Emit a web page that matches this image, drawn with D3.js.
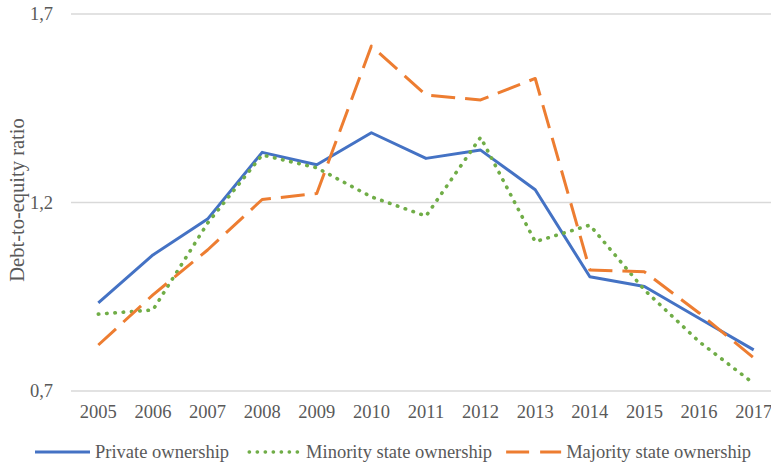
<!DOCTYPE html>
<html>
<head>
<meta charset="utf-8">
<script src="https://cdn.jsdelivr.net/npm/d3@7"></script>
<style>
  body { margin: 0; background: #fff; }
  svg { display: block; font-family: "Liberation Serif", "Times New Roman", serif; }
  .grid line { stroke: #d9d9d9; stroke-width: 1.5; }
  .tick-label { fill: #595959; font-size: 18.5px; }
</style>
</head>
<body>
<div class="graph"></div>
<script>
// values
var years = ["2005", "2006", "2007", "2008", "2009", "2010", "2011", "2012", "2013", "2014", "2015", "2016", "2017"];
var privateOwnership  = [0.934, 1.061, 1.156, 1.333, 1.300, 1.385, 1.317, 1.339, 1.234, 1.003, 0.977, 0.893, 0.809];
var minorityOwnership = [0.904, 0.915, 1.145, 1.326, 1.292, 1.215, 1.164, 1.373, 1.096, 1.140, 0.968, 0.831, 0.720];
var majorityOwnership = [0.822, 0.955, 1.074, 1.208, 1.224, 1.615, 1.485, 1.472, 1.529, 1.021, 1.016, 0.907, 0.788];
var yTicks = [0.7, 1.2, 1.7];
var seriesNames = ["Private ownership", "Minority state ownership", "Majority state ownership"];

var width = 771, height = 466;

// plot area (right side runs a bit past the picture, as in the original)
var plot = {left: 71, right: 781, top: 14, bottom: 391};

var x = d3.scaleBand()
    .domain(years)
    .range([plot.left, plot.right]);

var y = d3.scaleLinear()
    .domain([0.7, 1.7])
    .range([plot.bottom, plot.top]);

var commaFormat = d3.formatLocale({decimal: ",", thousands: ".", grouping: [3], currency: ["", ""]}).format(".1f");

var svg = d3.select(".graph").append("svg")
    .attr("width", width)
    .attr("height", height);

// gridlines (0,7 one doubles as the axis line)
svg.append("g").attr("class", "grid")
  .selectAll("line").data(yTicks).join("line")
    .attr("x1", plot.left).attr("x2", plot.right)
    .attr("y1", function(d) { return y(d); })
    .attr("y2", function(d) { return y(d); });

// y tick labels
svg.append("g").selectAll("text").data(yTicks).join("text")
    .attr("class", "tick-label")
    .attr("x", 53)
    .attr("y", function(d) { return y(d); })
    .attr("dy", "0.35em")
    .attr("text-anchor", "end")
    .text(function(d) { return commaFormat(d); });

// x tick labels
svg.append("g").selectAll("text").data(years).join("text")
    .attr("class", "tick-label")
    .attr("x", function(d) { return x(d) + x.bandwidth() / 2; })
    .attr("y", 412)
    .attr("dy", "0.35em")
    .attr("text-anchor", "middle")
    .text(function(d) { return d; });

// y axis title
svg.append("text")
    .attr("transform", "translate(17,200) rotate(-90)")
    .attr("text-anchor", "middle")
    .attr("dy", "0.35em")
    .attr("fill", "#595959")
    .style("font-size", "20.5px")
    .text("Debt-to-equity ratio");

var series = [
  {name: seriesNames[0], values: privateOwnership,  color: "#4472C4", dash: null,      cap: "butt"},
  {name: seriesNames[1], values: minorityOwnership, color: "#70AD47", dash: "0.5 7.8", cap: "round"},
  {name: seriesNames[2], values: majorityOwnership, color: "#ED7D31", dash: "24 10",   cap: "butt"}
];

var line = d3.line()
    .x(function(d, i) { return x(years[i]) + x.bandwidth() / 2; })
    .y(function(d) { return y(d); });

svg.append("g").selectAll("path").data(series).join("path")
    .attr("d", function(s) { return line(s.values); })
    .attr("fill", "none")
    .attr("stroke", function(s) { return s.color; })
    .attr("stroke-width", function(s) { return s.cap === "round" ? 3.6 : 3; })
    .attr("stroke-dasharray", function(s) { return s.dash; })
    .attr("stroke-linecap", function(s) { return s.cap; })
    .attr("stroke-linejoin", "round");

// legend, laid out in one row
var legend = svg.append("g");
var items = legend.selectAll("g").data(series).join("g");
items.append("line")
    .attr("x1", 0).attr("x2", 55)
    .attr("y1", 0).attr("y2", 0)
    .attr("stroke", function(s) { return s.color; })
    .attr("stroke-width", function(s) { return s.cap === "round" ? 3.6 : 3; })
    .attr("stroke-dasharray", function(s) { return s.cap === "round" ? "0.5 8.2" : (s.dash ? "23 11" : null); })
    .attr("stroke-linecap", function(s) { return s.cap; })
    .attr("transform", function(s) { return s.cap === "round" ? "translate(3,0) scale(0.92,1)" : null; });
items.append("text")
    .attr("x", 60)
    .attr("dy", "0.35em")
    .attr("fill", "#595959")
    .style("font-size", "18.5px")
    .text(function(s) { return s.name; });

var offset = 0;
items.each(function() {
  var w = this.getBBox().width;
  d3.select(this).attr("transform", "translate(" + offset + ",0)");
  offset += w + 17;
});
legend.attr("transform", "translate(35,452)");
</script>
</body>
</html>
